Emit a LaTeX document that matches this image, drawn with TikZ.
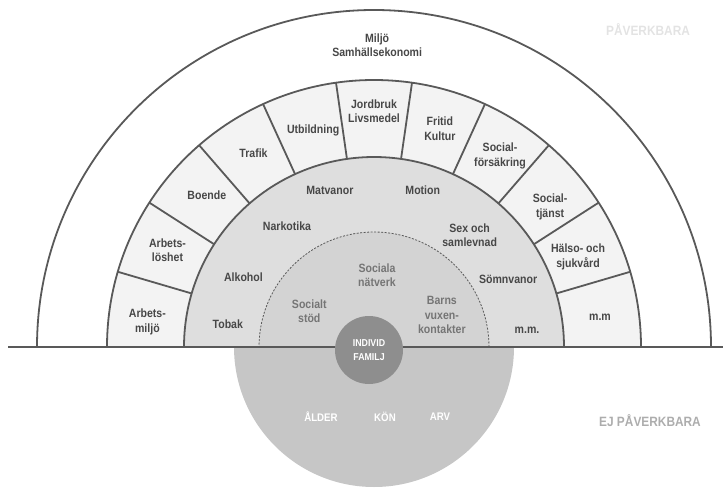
\documentclass[tikz,border=0pt]{standalone}
\usepackage{fontspec}
\setmainfont{Liberation Sans}[FakeStretch=0.88]
\definecolor{linegray}{HTML}{595959}
\definecolor{txtgray}{HTML}{474747}
\definecolor{sectorfill}{HTML}{F3F3F3}
\definecolor{lifefill}{HTML}{DEDEDE}
\definecolor{socialfill}{HTML}{D3D3D3}
\definecolor{basefill}{HTML}{C6C6C6}
\definecolor{centerfill}{HTML}{8E8E8E}
\tikzset{
  ring/.style={draw=linegray, line width=1.8pt},
  dashring/.style={draw=linegray, line width=0.8pt, dash pattern=on 2pt off 1.5pt},
  lbl/.style={text=txtgray, align=center, inner sep=0pt, font=\fontsize{12}{14.5}\selectfont\bfseries},
  soclbl/.style={lbl, text=txtgray!75},
  caplbl/.style={text=white, inner sep=0pt, font=\fontsize{11}{13}\selectfont\bfseries},
  sidelbl/.style={inner sep=0pt, font=\fontsize{13.5}{15}\selectfont\bfseries}
}
\begin{document}
\begin{tikzpicture}[x=1pt,y=1pt]
  \useasboundingbox (0,0) rectangle (725,488);
  \coordinate (c) at (374,141);
  % fields
  \fill[sectorfill] (c) ++(0:267) arc[start angle=0, end angle=180, radius=267] -- cycle;
  \fill[lifefill] (c) ++(0:190) arc[start angle=0, end angle=180, radius=190] -- cycle;
  \fill[socialfill] (c) ++(0:115) arc[start angle=0, end angle=180, radius=115] -- cycle;
  \fill[basefill] (c) ++(0:140) arc[start angle=0, end angle=-180, radius=140] -- cycle;
  % rings
  \draw[ring] (c) ++(0:337) arc[start angle=0, end angle=180, radius=337];
  \draw[ring] (c) ++(0:267) arc[start angle=0, end angle=180, radius=267];
  \draw[ring] (c) ++(0:190) arc[start angle=0, end angle=180, radius=190];
  \draw[dashring] (c) ++(0:115) arc[start angle=0, end angle=180, radius=115];
  \foreach \k in {1,...,10}
    \draw[ring, shift={(c)}] (\k*180/11:190) -- (\k*180/11:267);
  \draw[draw=linegray, line width=1.2pt] (8,141) -- (723,141);
  \node[circle, fill=centerfill, minimum size=68pt, inner sep=0pt, text=white,
    align=center, font=\fontsize{10}{14}\selectfont\bfseries] (individ) at (369,138) {INDIVID\\FAMILJ};
  % labels
  \draw[shift={(c)}]
    (89.4:302) node[lbl] (miljo) {Miljö\\Samhällsekonomi}
    (173.7:228) node[lbl] (arbmiljo) {Arbets-\\miljö}
    (154.9:228) node[lbl] (arblos) {Arbets-\\löshet}
    (137.7:226) node[lbl] (boende) {Boende}
    (121.9:228) node[lbl] (trafik) {Trafik}
    (105.7:225) node[lbl] (utbild) {Utbildning}
    (90:236) node[lbl] (jordbruk) {Jordbruk\\Livsmedel}
    (73.2:228) node[lbl] (fritid) {Fritid\\Kultur}
    (56.6:229) node[lbl] (sforsak) {Social-\\försäkring}
    (38.5:225) node[lbl] (stjanst) {Social-\\tjänst}
    (23.8:223) node[lbl] (halso) {Hälso- och\\sjukvård}
    (7.6:228) node[lbl] (mmyttre) {m.m}
    (171.0:148) node[lbl] (tobak) {Tobak}
    (151.9:148) node[lbl] (alkohol) {Alkohol}
    (125.7:149) node[lbl] (narkotika) {Narkotika}
    (105.7:163) node[lbl] (matvanor) {Matvanor}
    (72.7:164) node[lbl] (motion) {Motion}
    (49.4:147) node[lbl] (samliv) {Sex och\\samlevnad}
    (26.6:150) node[lbl] (somn) {Sömnvanor}
    (6.3:154) node[lbl] (mminre) {m.m.}
    (151:74) node[soclbl] (stod) {Socialt\\stöd}
    (87.6:72) node[soclbl] (natverk) {Sociala\\nätverk}
    (25.2:75) node[soclbl] (barns) {Barns\\vuxen-\\kontakter};
  \node[caplbl] (alder) at (321,71) {ÅLDER};
  \node[caplbl] (kon) at (385,71) {KÖN};
  \node[caplbl] (arv) at (440,71) {ARV};
  \node[sidelbl, text=black!11] (paverk) at (648,458) {PÅVERKBARA};
  \node[sidelbl, text=black!32] (ejpaverk) at (650,67) {EJ PÅVERKBARA};
\end{tikzpicture}
\end{document}
